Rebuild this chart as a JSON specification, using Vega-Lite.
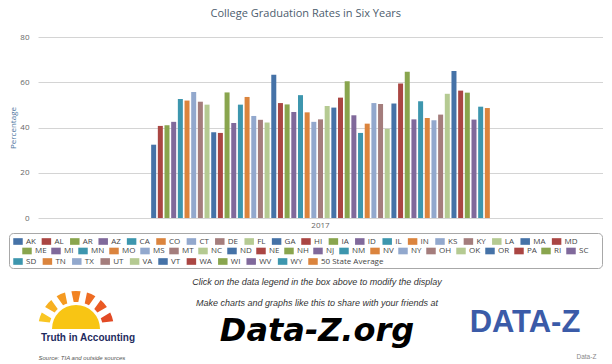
{
  "$schema": "https://vega.github.io/schema/vega-lite/v6.json",
  "padding": {"left": 8, "top": 8, "right": 0, "bottom": 0},
  "config": {
    "view": {"stroke": null},
    "font": "Open Sans",
    "legend": {"title": null, "orient": "none", "direction": "horizontal", "symbolLimit": 100,
               "symbolType": "M-1,-0.7H1V0.7H-1Z", "symbolSize": 90, "symbolStrokeWidth": 0, "symbolOpacity": 1,
               "labelFontSize": 8, "labelColor": "#444444", "labelOffset": 3, "labelLimit": 200}
  },
  "resolve": {"scale": {"color": "independent"}, "legend": {"color": "independent"}},
  "spacing": 4,
  "vconcat": [
    {
      "title": {"text": "College Graduation Rates in Six Years", "fontSize": 11, "fontWeight": "normal", "color": "#4d5d6e", "offset": 14, "font": "Open Sans", "frame": "bounds"},
      "width": 565,
      "height": 181,
      "data": {"values": [
        {"state": "AK", "year": "2017", "rate": 32.4},
        {"state": "AL", "year": "2017", "rate": 40.7},
        {"state": "AR", "year": "2017", "rate": 41.0},
        {"state": "AZ", "year": "2017", "rate": 42.5},
        {"state": "CA", "year": "2017", "rate": 52.6},
        {"state": "CO", "year": "2017", "rate": 51.9},
        {"state": "CT", "year": "2017", "rate": 55.7},
        {"state": "DE", "year": "2017", "rate": 51.4},
        {"state": "FL", "year": "2017", "rate": 50.1},
        {"state": "GA", "year": "2017", "rate": 37.9},
        {"state": "HI", "year": "2017", "rate": 37.6},
        {"state": "IA", "year": "2017", "rate": 55.5},
        {"state": "ID", "year": "2017", "rate": 42.0},
        {"state": "IL", "year": "2017", "rate": 50.1},
        {"state": "IN", "year": "2017", "rate": 53.5},
        {"state": "KS", "year": "2017", "rate": 45.1},
        {"state": "KY", "year": "2017", "rate": 43.4},
        {"state": "LA", "year": "2017", "rate": 42.2},
        {"state": "MA", "year": "2017", "rate": 63.3},
        {"state": "MD", "year": "2017", "rate": 50.8},
        {"state": "ME", "year": "2017", "rate": 50.2},
        {"state": "MI", "year": "2017", "rate": 46.9},
        {"state": "MN", "year": "2017", "rate": 54.3},
        {"state": "MO", "year": "2017", "rate": 46.7},
        {"state": "MS", "year": "2017", "rate": 42.5},
        {"state": "MT", "year": "2017", "rate": 43.6},
        {"state": "NC", "year": "2017", "rate": 49.5},
        {"state": "ND", "year": "2017", "rate": 48.8},
        {"state": "NE", "year": "2017", "rate": 53.2},
        {"state": "NH", "year": "2017", "rate": 60.4},
        {"state": "NJ", "year": "2017", "rate": 45.4},
        {"state": "NM", "year": "2017", "rate": 37.6},
        {"state": "NV", "year": "2017", "rate": 41.7},
        {"state": "NY", "year": "2017", "rate": 50.8},
        {"state": "OH", "year": "2017", "rate": 50.4},
        {"state": "OK", "year": "2017", "rate": 39.4},
        {"state": "OR", "year": "2017", "rate": 50.6},
        {"state": "PA", "year": "2017", "rate": 59.5},
        {"state": "RI", "year": "2017", "rate": 64.6},
        {"state": "SC", "year": "2017", "rate": 43.6},
        {"state": "SD", "year": "2017", "rate": 51.6},
        {"state": "TN", "year": "2017", "rate": 44.2},
        {"state": "TX", "year": "2017", "rate": 43.2},
        {"state": "UT", "year": "2017", "rate": 45.7},
        {"state": "VA", "year": "2017", "rate": 54.9},
        {"state": "VT", "year": "2017", "rate": 65.0},
        {"state": "WA", "year": "2017", "rate": 56.3},
        {"state": "WI", "year": "2017", "rate": 55.4},
        {"state": "WV", "year": "2017", "rate": 43.5},
        {"state": "WY", "year": "2017", "rate": 49.2},
        {"state": "50 State Average", "year": "2017", "rate": 48.6}
      ]},
      "encoding": {
        "x": {"field": "year", "type": "nominal", "title": null,
              "scale": {"paddingInner": 0, "paddingOuter": 0.33},
              "axis": {"labelAngle": 0, "ticks": false, "domain": false, "labelFontSize": 8, "labelColor": "#666666", "labelPadding": 3}},
        "xOffset": {"field": "state", "type": "nominal",
                    "scale": {"paddingInner": 0.25, "paddingOuter": 0.125,
                              "domain": ["AK","AL","AR","AZ","CA","CO","CT","DE","FL","GA","HI","IA","ID","IL","IN","KS","KY","LA","MA","MD",
                                         "ME","MI","MN","MO","MS","MT","NC","ND","NE","NH","NJ","NM","NV","NY","OH","OK","OR","PA","RI","SC",
                                         "SD","TN","TX","UT","VA","VT","WA","WI","WV","WY","50 State Average"]}},
        "y": {"field": "rate", "type": "quantitative", "title": "Percentage",
              "scale": {"domain": [0, 80], "nice": false},
              "axis": {"values": [0, 20, 40, 60, 80], "ticks": false, "domain": false, "gridColor": "#d4d4d4",
                       "labelFontSize": 8, "labelColor": "#666666", "labelPadding": 9,
                       "titleFontSize": 8, "titleFontWeight": "normal", "titleColor": "#4d759e", "titlePadding": 2}}
      },
      "resolve": {"scale": {"color": "independent"}, "legend": {"color": "independent"}},
      "layer": [
        {
          "transform": [{"filter": {"field": "state", "oneOf": ["AK","AL","AR","AZ","CA","CO","CT","DE","FL","GA","HI","IA","ID","IL","IN","KS","KY","LA","MA","MD"]}}],
          "mark": {"type": "bar"},
          "encoding": {
            "color": {"field": "state", "type": "nominal", "sort": null,
                      "scale": {"range": ["#4572A7", "#AA4643", "#89A54E", "#80699B", "#3D96AE", "#DB843D", "#92A8CD", "#A47D7C", "#B5CA92"]},
                      "legend": {"legendX": -25, "legendY": 199.5, "padding": 0, "columnPadding": 5.4, "strokeColor": null, "fillColor": null}}
          }
        },
        {
          "transform": [{"filter": {"field": "state", "oneOf": ["ME","MI","MN","MO","MS","MT","NC","ND","NE","NH","NJ","NM","NV","NY","OH","OK","OR","PA","RI","SC"]}}],
          "mark": {"type": "bar"},
          "encoding": {
            "color": {"field": "state", "type": "nominal", "sort": null,
                      "scale": {"range": ["#89A54E", "#80699B", "#3D96AE", "#DB843D", "#92A8CD", "#A47D7C", "#B5CA92", "#4572A7", "#AA4643"]},
                      "legend": {"legendX": -29, "legendY": 196, "padding": 13, "columnPadding": 4.0, "strokeColor": "#a8a8a8", "cornerRadius": 4, "fillColor": null}}
          }
        },
        {
          "transform": [{"filter": {"field": "state", "oneOf": ["SD","TN","TX","UT","VA","VT","WA","WI","WV","WY","50 State Average"]}}],
          "mark": {"type": "bar"},
          "encoding": {
            "color": {"field": "state", "type": "nominal", "sort": null,
                      "scale": {"range": ["#3D96AE", "#DB843D", "#92A8CD", "#A47D7C", "#B5CA92", "#4572A7", "#AA4643", "#89A54E", "#80699B"]},
                      "legend": {"legendX": -25, "legendY": 219.5, "padding": 0, "columnPadding": 5.4, "strokeColor": null, "fillColor": null}}
          }
        }
      ]
    },
    {
      "spacing": 0,
      "hconcat": [
        {
          "spacing": 0,
          "vconcat": [
            {
              "width": 76,
              "height": 56,
              "layer": [
                {
                  "data": {"values": [
                    {"ray": "r1", "w": 1}, {"ray": "r2", "w": 1}, {"ray": "r3", "w": 1}, {"ray": "r4", "w": 1},
                    {"ray": "r5", "w": 1}, {"ray": "r6", "w": 1}, {"ray": "r7", "w": 1}
                  ]},
                  "mark": {"type": "arc", "innerRadius": 27, "radius": 38, "padAngle": 0.14},
                  "encoding": {
                    "theta": {"field": "w", "type": "quantitative", "stack": true, "scale": {"range": [-1.45, 1.45]}},
                    "color": {"field": "ray", "type": "nominal", "legend": null,
                              "scale": {"range": ["#f9c623", "#f7b021", "#f59a21", "#f28322", "#ee6c23", "#ea5a24", "#e24a25"]}},
                    "y": {"datum": 0, "type": "quantitative", "scale": {"domain": [0, 1]}, "axis": null}
                  }
                },
                {
                  "data": {"values": [{}]},
                  "mark": {"type": "arc", "radius": 24, "theta": -1.5708, "theta2": 1.5708, "color": "#f8c514"},
                  "encoding": {
                    "y": {"datum": 0, "type": "quantitative", "axis": null}
                  }
                }
              ]
            },
            {
              "width": 100, "height": 16,
              "data": {"values": [{}]},
              "mark": {"type": "text", "text": "Truth in Accounting", "font": "Liberation Sans", "fontWeight": "bold", "fontSize": 10, "color": "#1e2b5e"},
              "encoding": {}
            },
            {
              "width": 127, "height": 6,
              "data": {"values": [{}]},
              "mark": {"type": "text", "text": "", "fontSize": 1},
              "encoding": {}
            },
            {
              "width": 1, "height": 12,
              "data": {"values": [{}]},
              "mark": {"type": "text", "text": "Source: TIA and outside sources", "align": "left", "font": "Liberation Sans", "fontStyle": "italic", "fontSize": 6, "color": "#555555"},
              "encoding": {}
            }
          ]
        },
        {
          "spacing": 0,
          "vconcat": [
            {
              "width": 304, "height": 18,
              "data": {"values": [{}]},
              "mark": {"type": "text", "text": "Click on the data legend in the box above to modify the display", "font": "Liberation Sans", "fontStyle": "italic", "fontSize": 9, "color": "#333333"},
              "encoding": {}
            },
            {
              "width": 304, "height": 24,
              "data": {"values": [{}]},
              "mark": {"type": "text", "text": "Make charts and graphs like this to share with your friends at", "font": "Liberation Sans", "fontStyle": "italic", "fontSize": 9, "color": "#333333"},
              "encoding": {}
            },
            {
              "width": 304, "height": 32,
              "data": {"values": [{}]},
              "mark": {"type": "text", "text": "Data-Z.org", "font": "DejaVu Sans", "fontWeight": "bold", "fontStyle": "italic", "fontSize": 32, "color": "#000000"},
              "encoding": {}
            }
          ]
        },
        {
          "spacing": 0,
          "vconcat": [
            {
              "width": 112, "height": 22,
              "data": {"values": [{}]},
              "mark": {"type": "text", "text": "", "fontSize": 1},
              "encoding": {}
            },
            {
              "width": 112, "height": 56,
              "data": {"values": [{}]},
              "mark": {"type": "text", "text": "DATA-Z", "font": "Liberation Sans", "fontWeight": "bold", "fontSize": 31, "color": "#3b5ba8"},
              "encoding": {}
            },
            {
              "spacing": 0,
              "hconcat": [
                {
                  "width": 107, "height": 12,
                  "data": {"values": [{}]},
                  "mark": {"type": "text", "text": "", "fontSize": 1},
                  "encoding": {}
                },
                {
                  "width": 1, "height": 12,
                  "data": {"values": [{}]},
                  "mark": {"type": "text", "text": "Data-Z", "align": "left", "font": "Liberation Sans", "fontSize": 6.5, "color": "#888888"},
                  "encoding": {}
                }
              ]
            }
          ]
        }
      ]
    }
  ]
}
